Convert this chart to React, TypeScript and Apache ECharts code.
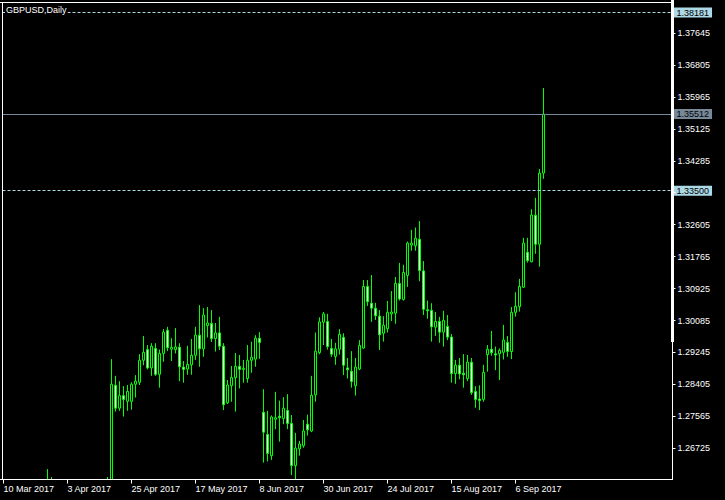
import React, { useEffect, useRef } from "react";
import * as echarts from "echarts";

const FONT = "'Liberation Sans', Arial, sans-serif";

const chartTitle = "GBPUSD,Daily";
const xTickIndex = [0, 16, 32, 48, 64, 80, 96, 112, 128];
const xTickLabels = [
  "10 Mar 2017", "3 Apr 2017", "25 Apr 2017", "17 May 2017", "8 Jun 2017",
  "30 Jun 2017", "24 Jul 2017", "15 Aug 2017", "6 Sep 2017",
];
const yTicks = [
  1.26725, 1.27565, 1.28405, 1.29245, 1.30085, 1.30925, 1.31765,
  1.32605, 1.33445, 1.34285, 1.35125, 1.35965, 1.36805, 1.37645,
];
// the 1.33445 label lies under the 1.33500 level box in the reference
const yLabelValues = yTicks.filter((v) => v !== 1.33445);
const dashedLevels = [1.38181, 1.335];
const bidPrice = 1.35512;

// daily bars, one per trading day from 10 Mar 2017: [open, close, low, high]
const candles = [
  [1.2175, 1.2195, 1.2135, 1.2235],
  [1.2195, 1.2225, 1.2175, 1.227],
  [1.2225, 1.2155, 1.211, 1.2235],
  [1.2155, 1.23, 1.214, 1.231],
  [1.23, 1.2365, 1.2255, 1.24],
  [1.2365, 1.2395, 1.2345, 1.242],
  [1.2395, 1.237, 1.2345, 1.242],
  [1.237, 1.2475, 1.2345, 1.249],
  [1.2475, 1.248, 1.241, 1.2505],
  [1.248, 1.2495, 1.245, 1.252],
  [1.2495, 1.2475, 1.2445, 1.2515],
  [1.2475, 1.257, 1.246, 1.2618],
  [1.257, 1.243, 1.24, 1.2597],
  [1.243, 1.2435, 1.2375, 1.248],
  [1.2435, 1.246, 1.241, 1.249],
  [1.246, 1.255, 1.244, 1.2565],
  [1.255, 1.248, 1.2455, 1.2575],
  [1.248, 1.247, 1.243, 1.25],
  [1.247, 1.249, 1.245, 1.2545],
  [1.249, 1.2475, 1.244, 1.251],
  [1.2475, 1.2385, 1.2365, 1.2485],
  [1.2385, 1.241, 1.2345, 1.2425],
  [1.241, 1.248, 1.239, 1.2495],
  [1.248, 1.252, 1.244, 1.2545],
  [1.252, 1.253, 1.249, 1.2555],
  [1.253, 1.255, 1.2505, 1.2565],
  [1.255, 1.257, 1.2535, 1.2597],
  [1.257, 1.2841, 1.2555, 1.2907],
  [1.2838, 1.2778, 1.2769, 1.2863],
  [1.2778, 1.2811, 1.2771, 1.2849],
  [1.2811, 1.2801, 1.2756, 1.2836],
  [1.2796, 1.2822, 1.2771, 1.2839],
  [1.2796, 1.2841, 1.2774, 1.2846],
  [1.2841, 1.2849, 1.2806, 1.2865],
  [1.2846, 1.2904, 1.2839, 1.292],
  [1.2904, 1.2925, 1.2891, 1.2968],
  [1.2932, 1.2884, 1.288, 1.2944],
  [1.2884, 1.2941, 1.2863, 1.2949],
  [1.2935, 1.2867, 1.2863, 1.2949],
  [1.2867, 1.2922, 1.2832, 1.2932],
  [1.2922, 1.2978, 1.29, 1.2986],
  [1.2983, 1.2937, 1.2928, 1.2992],
  [1.2933, 1.2938, 1.2902, 1.2962],
  [1.2932, 1.2939, 1.2922, 1.2989],
  [1.2938, 1.2887, 1.2849, 1.2949],
  [1.2886, 1.288, 1.2845, 1.2902],
  [1.2881, 1.2893, 1.2866, 1.2942],
  [1.2892, 1.2917, 1.2866, 1.296],
  [1.2917, 1.297, 1.2905, 1.2992],
  [1.297, 1.2934, 1.2887, 1.3049],
  [1.2934, 1.3023, 1.2913, 1.3041],
  [1.2995, 1.3002, 1.2964, 1.3044],
  [1.3001, 1.2961, 1.2952, 1.3036],
  [1.2961, 1.2976, 1.2927, 1.3002],
  [1.2976, 1.2941, 1.2931, 1.3018],
  [1.2941, 1.2787, 1.2773, 1.2949],
  [1.2792, 1.2839, 1.2789, 1.2852],
  [1.2837, 1.2859, 1.2795, 1.2889],
  [1.2858, 1.2888, 1.2769, 1.2923],
  [1.2888, 1.288, 1.283, 1.2918],
  [1.288, 1.2883, 1.2845, 1.2905],
  [1.2856, 1.2904, 1.2845, 1.2944],
  [1.2904, 1.2912, 1.2871, 1.2953],
  [1.2907, 1.2962, 1.2887, 1.297],
  [1.2962, 1.2951, 1.2908, 1.2978],
  [1.2767, 1.2715, 1.2635, 1.2828],
  [1.2709, 1.2659, 1.2638, 1.2771],
  [1.2653, 1.2755, 1.2642, 1.2759],
  [1.2749, 1.2753, 1.2723, 1.2821],
  [1.2757, 1.2753, 1.269, 1.2798],
  [1.2751, 1.2778, 1.2736, 1.2807],
  [1.2772, 1.2738, 1.2723, 1.2815],
  [1.2738, 1.2627, 1.2602, 1.276],
  [1.2627, 1.2673, 1.2588, 1.2713],
  [1.2671, 1.2684, 1.2653, 1.2692],
  [1.2679, 1.2718, 1.2674, 1.2747],
  [1.2736, 1.2721, 1.2706, 1.2761],
  [1.2718, 1.2812, 1.2715, 1.2863],
  [1.2813, 1.2928, 1.2795, 1.2977],
  [1.2924, 1.3005, 1.292, 1.3017],
  [1.3004, 1.3026, 1.2944, 1.3031],
  [1.3006, 1.294, 1.2932, 1.3026],
  [1.2935, 1.292, 1.2913, 1.296],
  [1.2914, 1.2934, 1.2892, 1.295],
  [1.2933, 1.2972, 1.2919, 1.2986],
  [1.2964, 1.2891, 1.2865, 1.2975],
  [1.2884, 1.2879, 1.2856, 1.291],
  [1.2875, 1.2848, 1.2832, 1.2928],
  [1.2837, 1.2886, 1.2811, 1.291],
  [1.2881, 1.2943, 1.2878, 1.2957],
  [1.2936, 1.3098, 1.2934, 1.3115],
  [1.3098, 1.3058, 1.3047, 1.3115],
  [1.3054, 1.3041, 1.3005, 1.3128],
  [1.3041, 1.3021, 1.301, 1.3055],
  [1.302, 1.2971, 1.2931, 1.3036],
  [1.2975, 1.2996, 1.2953, 1.302],
  [1.2987, 1.303, 1.2977, 1.306],
  [1.3026, 1.3031, 1.3007, 1.3086],
  [1.3028, 1.3106, 1.3, 1.3123],
  [1.3106, 1.3065, 1.3061, 1.316],
  [1.3064, 1.3135, 1.3061, 1.3155],
  [1.3127, 1.3212, 1.3097, 1.3216],
  [1.3207, 1.3212, 1.3192, 1.3247],
  [1.3205, 1.3225, 1.3192, 1.3253],
  [1.3222, 1.314, 1.3112, 1.327],
  [1.3139, 1.3038, 1.3023, 1.3165],
  [1.3037, 1.3034, 1.3013, 1.3061],
  [1.3035, 1.2992, 1.2953, 1.3054],
  [1.2991, 1.3006, 1.2968, 1.3031],
  [1.3006, 1.2978, 1.295, 1.3018],
  [1.2978, 1.3009, 1.294, 1.3034],
  [1.2993, 1.2965, 1.2957, 1.3023],
  [1.2965, 1.2869, 1.2845, 1.2973],
  [1.2869, 1.2891, 1.2842, 1.2905],
  [1.2891, 1.2868, 1.2854, 1.291],
  [1.287, 1.2866, 1.2832, 1.292],
  [1.2856, 1.2899, 1.2849, 1.2918],
  [1.2899, 1.2819, 1.2813, 1.291],
  [1.2822, 1.2801, 1.2779, 1.2836],
  [1.2802, 1.2798, 1.2773, 1.2838],
  [1.2801, 1.2872, 1.2795, 1.2892],
  [1.2919, 1.2933, 1.2874, 1.2944],
  [1.2933, 1.2924, 1.2916, 1.2981],
  [1.2921, 1.2918, 1.2878, 1.294],
  [1.2921, 1.293, 1.2852, 1.2935],
  [1.2925, 1.2957, 1.2906, 1.2997],
  [1.2951, 1.2927, 1.2913, 1.2968],
  [1.2927, 1.303, 1.2907, 1.3044],
  [1.303, 1.3046, 1.3019, 1.3083],
  [1.3045, 1.3098, 1.3032, 1.3118],
  [1.3096, 1.3212, 1.3094, 1.3226],
  [1.3188, 1.3166, 1.3161, 1.3226],
  [1.3163, 1.3286, 1.3161, 1.3301],
  [1.3285, 1.3209, 1.3184, 1.3331],
  [1.3209, 1.3396, 1.315, 1.3407],
  [1.3396, 1.3551, 1.3381, 1.362],
];

export default function App() {
  const ref = useRef<HTMLDivElement>(null);

  useEffect(() => {
    if (!ref.current) return;
    const chart = echarts.init(ref.current, undefined, { renderer: "svg" });

    const boxLabel = {
      show: true,
      position: "end",
      distance: 1,
      fontSize: 9,
      fontFamily: FONT,
      lineHeight: 9,
      padding: [1, 3, 0, 3],
      formatter: (p: any) => Number(p.value).toFixed(5),
    };

    const bar = (x: number, y: number, w: number, h: number, fill: string, z: number) => ({
      type: "rect",
      silent: true,
      z,
      shape: { x, y, width: w, height: h },
      style: { fill },
    });

    const option: any = {
      animation: false,
      backgroundColor: "#000000",
      textStyle: { fontFamily: FONT },
      title: {
        text: chartTitle,
        left: 5,
        top: 4,
        padding: [1, 1, 1, 1],
        backgroundColor: "#000000",
        textStyle: { color: "#ffffff", fontSize: 9, fontWeight: "normal", fontFamily: FONT },
      },
      grid: { left: 2.5, top: 2.5, width: 670, height: 477, show: false, containLabel: false },
      xAxis: {
        type: "value",
        min: -0.25,
        max: 167.25,
        z: 20,
        axisLine: { show: true, onZero: false, lineStyle: { color: "#ffffff", width: 1 } },
        axisTick: { show: true, length: 4, customValues: xTickIndex, lineStyle: { color: "#ffffff", width: 1 } },
        axisLabel: {
          show: true,
          customValues: xTickIndex,
          formatter: (v: number) => {
            const k = xTickIndex.indexOf(Math.round(v));
            return k >= 0 ? xTickLabels[k] : "";
          },
          color: "#ffffff",
          fontSize: 9,
          fontFamily: FONT,
          align: "left",
          margin: 5,
        },
        splitLine: { show: false },
      },
      yAxis: {
        type: "value",
        position: "right",
        min: 1.25905,
        max: 1.38447,
        z: 20,
        axisLine: { show: true, onZero: false, lineStyle: { color: "#ffffff", width: 1 } },
        axisTick: { show: true, length: 3, customValues: yTicks, lineStyle: { color: "#ffffff", width: 1 } },
        axisLabel: {
          show: true,
          customValues: yLabelValues,
          formatter: (v: number) => v.toFixed(5),
          color: "#ffffff",
          fontSize: 9,
          fontFamily: FONT,
          margin: 5,
        },
        splitLine: { show: false },
      },
      graphic: [
        // black band below the plot so bars that run under the price range are cut at the frame
        bar(0, 480, 672, 20, "#000000", 10),
        // chart frame
        bar(0, 2, 673, 1, "#ffffff", 30),
        bar(2, 2, 1, 478, "#ffffff", 30),
        bar(0, 479, 673, 1, "#ffffff", 30),
        bar(672, 0, 1, 480, "#ffffff", 30),
        bar(671, 0, 3, 342, "#ffffff", 30),
      ],
      series: [
        {
          type: "candlestick",
          data: candles.map((c, i) => [i, c[0], c[1], c[2], c[3]]),
          encode: { x: 0, y: [1, 2, 3, 4] },
          barWidth: 2,
          clip: true,
          itemStyle: {
            color: "#000000",
            color0: "#ffffff",
            borderColor: "#00ff00",
            borderColor0: "#00ff00",
            borderColorDoji: "#00ff00",
            borderWidth: 1,
          },
          markLine: {
            silent: true,
            symbol: ["none", "none"],
            precision: 5,
            data: [
              ...dashedLevels.map((v) => ({
                yAxis: v,
                lineStyle: { color: "#add8e6", type: [3, 2], width: 1 },
                label: { ...boxLabel, backgroundColor: "#add8e6", color: "#000000" },
              })),
              {
                yAxis: bidPrice,
                lineStyle: { color: "#778899", type: "solid", width: 1 },
                label: { ...boxLabel, backgroundColor: "#778899", color: "#000000" },
              },
            ],
          },
        },
      ],
    };

    chart.setOption(option);
    return () => chart.dispose();
  }, []);

  return (
    <div
      ref={ref}
      style={{ position: "fixed", left: 0, top: 0, width: 725, height: 500, background: "#000" }}
    />
  );
}
